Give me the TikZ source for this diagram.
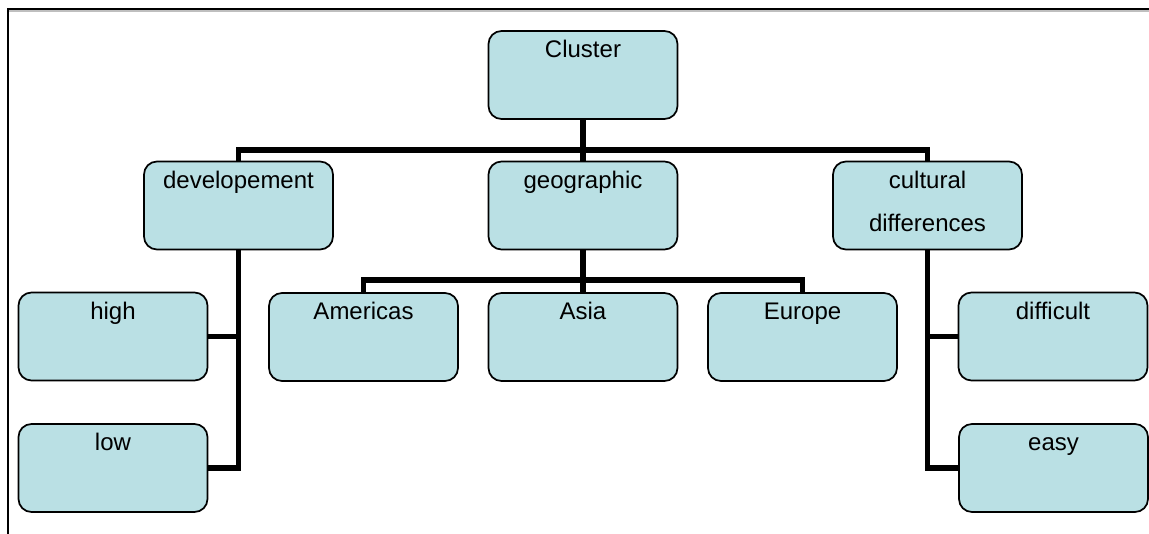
\documentclass[tikz,border=0pt]{standalone}
\usepackage{fontspec}
\setmainfont{Liberation Sans}
\definecolor{boxfill}{RGB}{186,224,228}
\begin{document}
\begin{tikzpicture}[x=0.75pt,y=-0.75pt,
  unit/.style={rectangle, rounded corners=13*0.75pt, draw=black, line width=1.3pt,
    fill=boxfill, minimum width=189*0.75pt, minimum height=88*0.75pt, inner sep=0pt},
  txt/.style={anchor=base, yshift=-27.5*0.75pt, inner sep=0pt, align=center,
    font=\fontsize{18}{32}\selectfont},
  twolines/.style={yshift=-43*0.75pt},
  conn/.style={draw=black, line width=3.8pt, line cap=butt, line join=miter},
  frameline/.style={draw=black, line width=1.5pt}]
\useasboundingbox (0,0) rectangle (1149,534);

% page frame (top and left edges)
\draw[draw=black!25, line width=1pt] (9,11) -- (1149,11);
\draw[frameline] (8,534) -- (8,9) -- (1149,9);

% boxes
\node[unit, label={[txt]north:Cluster}] (cluster) at (583,75) {};
\node[unit, label={[txt]north:developement}] (dev) at (238.5,205.5) {};
\node[unit, label={[txt]north:geographic}] (geo) at (583,205.5) {};
\node[unit, label={[txt,twolines]north:cultural\\differences}] (cult) at (927.5,205.5) {};
\node[unit, label={[txt]north:high}] (high) at (113,336.5) {};
\node[unit, label={[txt]north:Americas}] (amer) at (363.5,337) {};
\node[unit, label={[txt]north:Asia}] (asia) at (583,337) {};
\node[unit, label={[txt]north:Europe}] (eur) at (802.5,337) {};
\node[unit, label={[txt]north:difficult}] (diff) at (1053,336.5) {};
\node[unit, label={[txt]north:low}] (low) at (113,468) {};
\node[unit, label={[txt]north:easy}] (easy) at (1053.5,468) {};

% bus junctions
\coordinate (bus1) at (583,150);
\coordinate (bus2) at (583,280);

% connectors
\draw[conn] (cluster.south) -- (geo.north);
\draw[conn] (dev.north) |- (bus1) -| (cult.north);
\draw[conn] (geo.south) -- (asia.north);
\draw[conn] (amer.north) |- (bus2) -| (eur.north);
\draw[conn] (dev.south) |- (low.east);
\draw[conn] (high.east) -- (high.east -| dev.south);
\draw[conn] (cult.south) |- (easy.west);
\draw[conn] (diff.west) -- (diff.west -| cult.south);
\end{tikzpicture}
\end{document}
